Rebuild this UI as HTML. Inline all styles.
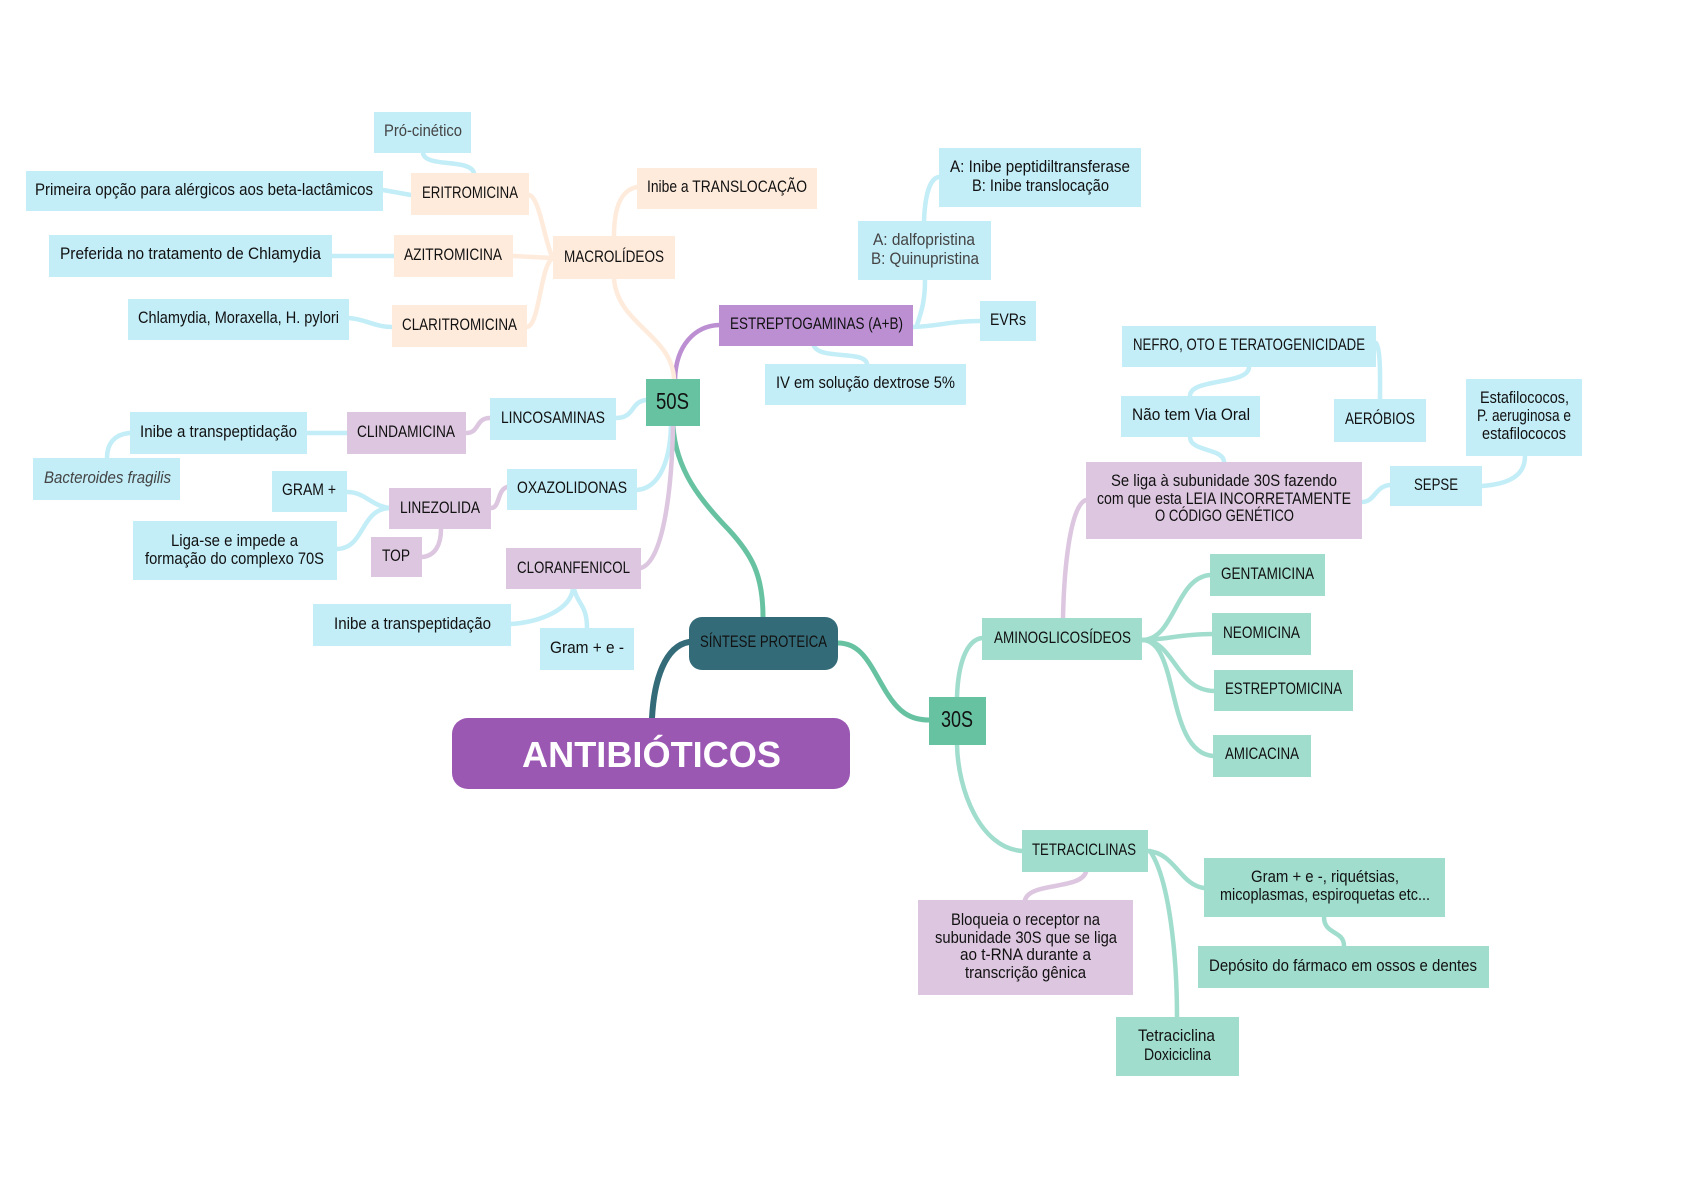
<!DOCTYPE html>
<html lang="pt"><head><meta charset="utf-8"><title>Antibióticos</title>
<style>html,body{margin:0;padding:0;background:#fff}svg{display:block}
text{font-family:"Liberation Sans Narrow","Liberation Sans",sans-serif;font-size:17px;fill:#111}
.g{fill:#444}.t{font-size:23px}
.c path{fill:none;stroke-width:4.5;stroke-linecap:round}
.b{stroke:#C3EDF7}.p{stroke:#FFEBDC}.l{stroke:#DDC6E0}.m{stroke:#A0DDCD}.v{stroke:#BC8FD3}
</style></head><body>
<svg xmlns="http://www.w3.org/2000/svg" width="1682" height="1190" viewBox="0 0 1682 1190">
<rect width="1682" height="1190" fill="#fff"/>
<g class="c">
<path d="M652 718C654 680 665 646 689 642" stroke="#336B78" style="stroke-width:6"/>
<path d="M673 426C676 470 700 500 729 530C752 555 763 575 763 617" stroke="#67C2A2" style="stroke-width:5"/>
<path d="M838 643C862 643 870 665 885 690C898 712 910 720 929 720" stroke="#67C2A2" style="stroke-width:5"/>
<path class="m" d="M957 697C958 665 966 640 982 638"/>
<path class="m" d="M957 745C958 790 980 848 1022 851"/>
<path class="m" d="M1142 640C1175 640 1175 578 1210 575"/>
<path class="m" d="M1142 640C1165 640 1180 634 1212 634"/>
<path class="m" d="M1142 640C1175 640 1175 690 1214 691"/>
<path class="m" d="M1142 640C1180 640 1165 752 1213 756"/>
<path class="l" d="M1063 618C1064 570 1070 505 1086 500"/>
<path class="m" d="M1148 851C1175 853 1180 885 1204 888"/>
<path class="m" d="M1150 851C1170 880 1177 960 1177 1017"/>
<path class="l" d="M1086 872C1080 890 1030 882 1025 900"/>
<path class="m" d="M1324 917C1324 935 1344 930 1344 946"/>
<path class="b" d="M1362 502C1375 502 1375 486 1390 485"/>
<path class="b" d="M1482 486C1510 484 1525 475 1525 456"/>
<path class="b" d="M1224 462C1224 448 1190 452 1190 437"/>
<path class="b" d="M1190 396C1190 378 1249 385 1249 367"/>
<path class="b" d="M1376 343C1381 350 1380 380 1380 399"/>
<path class="b" d="M913 327C940 326 950 321 980 321"/>
<path class="b" d="M917 325C922 310 925 300 925 280"/>
<path class="b" d="M924 221C925 195 930 178 939 177"/>
<path class="b" d="M814 346C820 360 865 350 867 364"/>
<path class="v" d="M675 379C676 345 695 326 719 325"/>
<path class="p" d="M674 379C672 335 618 325 614 279"/>
<path class="p" d="M614 236C614 205 622 190 637 187"/>
<path class="p" d="M553 258C545 245 540 197 529 195"/>
<path class="p" d="M513 256L553 258"/>
<path class="p" d="M527 327C540 325 540 265 553 258"/>
<path class="b" d="M383 190L411 195"/>
<path class="b" d="M474 173C470 158 425 168 423 153"/>
<path class="b" d="M332 256L394 256"/>
<path class="b" d="M349 318C365 319 375 327 392 327"/>
<path class="b" d="M646 400C630 402 635 418 616 418"/>
<path class="l" d="M490 418C475 418 480 433 466 433"/>
<path class="b" d="M347 433L307 433"/>
<path class="b" d="M130 433C115 434 107 443 107 458"/>
<path class="b" d="M671 426C670 460 660 488 637 490"/>
<path class="l" d="M673 426C672 480 665 560 641 568"/>
<path class="l" d="M507 487C497 490 500 508 491 508"/>
<path class="b" d="M389 508C370 505 365 492 347 492"/>
<path class="b" d="M389 508C360 510 365 548 337 549"/>
<path class="l" d="M441 529C441 545 435 556 422 557"/>
<path class="b" d="M573 589C570 610 540 622 511 624"/>
<path class="b" d="M574 589C578 605 587 605 587 628"/>
</g>
<g fill="#C3EDF7">
<rect x="374" y="112" width="97" height="41"/>
<rect x="26" y="171" width="357" height="40"/>
<rect x="49" y="235" width="283" height="42"/>
<rect x="128" y="299" width="221" height="41"/>
<rect x="765" y="364" width="201" height="41"/>
<rect x="490" y="398" width="126" height="42"/>
<rect x="130" y="412" width="177" height="42"/>
<rect x="33" y="458" width="147" height="42"/>
<rect x="272" y="471" width="75" height="41"/>
<rect x="507" y="469" width="130" height="41"/>
<rect x="133" y="521" width="204" height="59"/>
<rect x="313" y="604" width="198" height="42"/>
<rect x="540" y="628" width="94" height="42"/>
<rect x="939" y="148" width="202" height="59"/>
<rect x="858" y="221" width="133" height="59"/>
<rect x="980" y="301" width="56" height="40"/>
<rect x="1122" y="326" width="254" height="41"/>
<rect x="1121" y="396" width="139" height="41"/>
<rect x="1334" y="399" width="92" height="43"/>
<rect x="1466" y="379" width="116" height="77"/>
<rect x="1390" y="466" width="92" height="40"/>
</g>
<g fill="#FFEBDC">
<rect x="411" y="173" width="118" height="42"/>
<rect x="394" y="235" width="119" height="42"/>
<rect x="553" y="236" width="122" height="43"/>
<rect x="637" y="168" width="180" height="41"/>
<rect x="392" y="305" width="135" height="42"/>
</g>
<g fill="#DDC6E0">
<rect x="347" y="412" width="119" height="42"/>
<rect x="389" y="488" width="102" height="41"/>
<rect x="371" y="537" width="51" height="40"/>
<rect x="506" y="548" width="135" height="41"/>
<rect x="1086" y="462" width="276" height="77"/>
<rect x="918" y="900" width="215" height="95"/>
</g>
<g fill="#A0DDCD">
<rect x="982" y="618" width="160" height="42"/>
<rect x="1210" y="554" width="115" height="42"/>
<rect x="1212" y="613" width="99" height="42"/>
<rect x="1214" y="670" width="139" height="41"/>
<rect x="1213" y="735" width="98" height="42"/>
<rect x="1022" y="830" width="126" height="42"/>
<rect x="1204" y="858" width="241" height="59"/>
<rect x="1198" y="946" width="291" height="42"/>
<rect x="1116" y="1017" width="123" height="59"/>
</g>
<rect x="719" y="305" width="194" height="41" fill="#BC8FD3"/>
<rect x="646" y="379" width="54" height="47" fill="#67C2A2"/>
<rect x="929" y="697" width="57" height="48" fill="#67C2A2"/>
<rect x="689" y="617" width="149" height="53" rx="13" fill="#336B78"/>
<rect x="452" y="718" width="398" height="71" rx="16" fill="#9B58B3"/>

<text class="g" x="384" y="136" textLength="78" lengthAdjust="spacingAndGlyphs">Pró-cinético</text>
<text x="35" y="195" textLength="338" lengthAdjust="spacingAndGlyphs">Primeira opção para alérgicos aos beta-lactâmicos</text>
<text x="422" y="198" textLength="96" lengthAdjust="spacingAndGlyphs">ERITROMICINA</text>
<text x="60" y="259" textLength="261" lengthAdjust="spacingAndGlyphs">Preferida no tratamento de Chlamydia</text>
<text x="404" y="260" textLength="98" lengthAdjust="spacingAndGlyphs">AZITROMICINA</text>
<text x="564" y="262" textLength="100" lengthAdjust="spacingAndGlyphs">MACROLÍDEOS</text>
<text x="647" y="192" textLength="160" lengthAdjust="spacingAndGlyphs">Inibe a TRANSLOCAÇÃO</text>
<text x="138" y="323" textLength="201" lengthAdjust="spacingAndGlyphs">Chlamydia, Moraxella, H. pylori</text>
<text x="402" y="330" textLength="115" lengthAdjust="spacingAndGlyphs">CLARITROMICINA</text>
<text x="730" y="329" textLength="173" lengthAdjust="spacingAndGlyphs">ESTREPTOGAMINAS (A+B)</text>
<text x="776" y="388" textLength="179" lengthAdjust="spacingAndGlyphs">IV em solução dextrose 5%</text>
<text class="t" x="656" y="409" textLength="33" lengthAdjust="spacingAndGlyphs">50S</text>
<text x="501" y="423" textLength="104" lengthAdjust="spacingAndGlyphs">LINCOSAMINAS</text>
<text x="357" y="437" textLength="98" lengthAdjust="spacingAndGlyphs">CLINDAMICINA</text>
<text x="140" y="437" textLength="157" lengthAdjust="spacingAndGlyphs">Inibe a transpeptidação</text>
<text class="g" font-style="italic" x="44" y="483" textLength="127" lengthAdjust="spacingAndGlyphs">Bacteroides fragilis</text>
<text x="282" y="495" textLength="54" lengthAdjust="spacingAndGlyphs">GRAM +</text>
<text x="517" y="493" textLength="110" lengthAdjust="spacingAndGlyphs">OXAZOLIDONAS</text>
<text x="400" y="513" textLength="80" lengthAdjust="spacingAndGlyphs">LINEZOLIDA</text>
<text x="171" y="546" textLength="127" lengthAdjust="spacingAndGlyphs">Liga-se e impede a</text>
<text x="145" y="564" textLength="179" lengthAdjust="spacingAndGlyphs">formação do complexo 70S</text>
<text x="382" y="561" textLength="28" lengthAdjust="spacingAndGlyphs">TOP</text>
<text x="517" y="573" textLength="113" lengthAdjust="spacingAndGlyphs">CLORANFENICOL</text>
<text x="334" y="629" textLength="157" lengthAdjust="spacingAndGlyphs">Inibe a transpeptidação</text>
<text x="550" y="653" textLength="74" lengthAdjust="spacingAndGlyphs">Gram + e -</text>
<text x="700" y="647" textLength="127" lengthAdjust="spacingAndGlyphs">SÍNTESE PROTEICA</text>
<text x="522" y="767" textLength="259" lengthAdjust="spacingAndGlyphs" style="font-family:'Liberation Sans',sans-serif;font-weight:bold;font-size:36px;fill:#fff">ANTIBIÓTICOS</text>
<text x="950" y="172" textLength="180" lengthAdjust="spacingAndGlyphs">A: Inibe peptidiltransferase</text>
<text x="972" y="191" textLength="137" lengthAdjust="spacingAndGlyphs">B: Inibe translocação</text>
<text class="g" x="873" y="245" textLength="102" lengthAdjust="spacingAndGlyphs">A: dalfopristina</text>
<text class="g" x="871" y="264" textLength="108" lengthAdjust="spacingAndGlyphs">B: Quinupristina</text>
<text x="990" y="325" textLength="36" lengthAdjust="spacingAndGlyphs">EVRs</text>
<text x="1133" y="350" textLength="232" lengthAdjust="spacingAndGlyphs">NEFRO, OTO E TERATOGENICIDADE</text>
<text x="1132" y="420" textLength="118" lengthAdjust="spacingAndGlyphs">Não tem Via Oral</text>
<text x="1345" y="424" textLength="70" lengthAdjust="spacingAndGlyphs">AERÓBIOS</text>
<text x="1480" y="403" textLength="89" lengthAdjust="spacingAndGlyphs">Estafilococos,</text>
<text x="1477" y="421" textLength="94" lengthAdjust="spacingAndGlyphs">P. aeruginosa e</text>
<text x="1482" y="439" textLength="84" lengthAdjust="spacingAndGlyphs">estafilococos</text>
<text x="1414" y="490" textLength="44" lengthAdjust="spacingAndGlyphs">SEPSE</text>
<text x="1111" y="486" textLength="226" lengthAdjust="spacingAndGlyphs">Se liga à subunidade 30S fazendo</text>
<text x="1097" y="504" textLength="254" lengthAdjust="spacingAndGlyphs">com que esta LEIA INCORRETAMENTE</text>
<text x="1155" y="521" textLength="139" lengthAdjust="spacingAndGlyphs">O CÓDIGO GENÉTICO</text>
<text class="t" x="941" y="727" textLength="32" lengthAdjust="spacingAndGlyphs">30S</text>
<text x="994" y="643" textLength="137" lengthAdjust="spacingAndGlyphs">AMINOGLICOSÍDEOS</text>
<text x="1221" y="579" textLength="93" lengthAdjust="spacingAndGlyphs">GENTAMICINA</text>
<text x="1223" y="638" textLength="77" lengthAdjust="spacingAndGlyphs">NEOMICINA</text>
<text x="1225" y="694" textLength="117" lengthAdjust="spacingAndGlyphs">ESTREPTOMICINA</text>
<text x="1225" y="759" textLength="74" lengthAdjust="spacingAndGlyphs">AMICACINA</text>
<text x="1032" y="855" textLength="104" lengthAdjust="spacingAndGlyphs">TETRACICLINAS</text>
<text x="1251" y="882" textLength="148" lengthAdjust="spacingAndGlyphs">Gram + e -, riquétsias,</text>
<text x="1220" y="900" textLength="210" lengthAdjust="spacingAndGlyphs">micoplasmas, espiroquetas etc...</text>
<text x="1209" y="971" textLength="268" lengthAdjust="spacingAndGlyphs">Depósito do fármaco em ossos e dentes</text>
<text x="951" y="925" textLength="149" lengthAdjust="spacingAndGlyphs">Bloqueia o receptor na</text>
<text x="935" y="943" textLength="182" lengthAdjust="spacingAndGlyphs">subunidade 30S que se liga</text>
<text x="960" y="960" textLength="131" lengthAdjust="spacingAndGlyphs">ao t-RNA durante a</text>
<text x="965" y="978" textLength="121" lengthAdjust="spacingAndGlyphs">transcrição gênica</text>
<text x="1138" y="1041" textLength="77" lengthAdjust="spacingAndGlyphs">Tetraciclina</text>
<text x="1144" y="1060" textLength="67" lengthAdjust="spacingAndGlyphs">Doxiciclina</text>
</svg>
</body></html>
